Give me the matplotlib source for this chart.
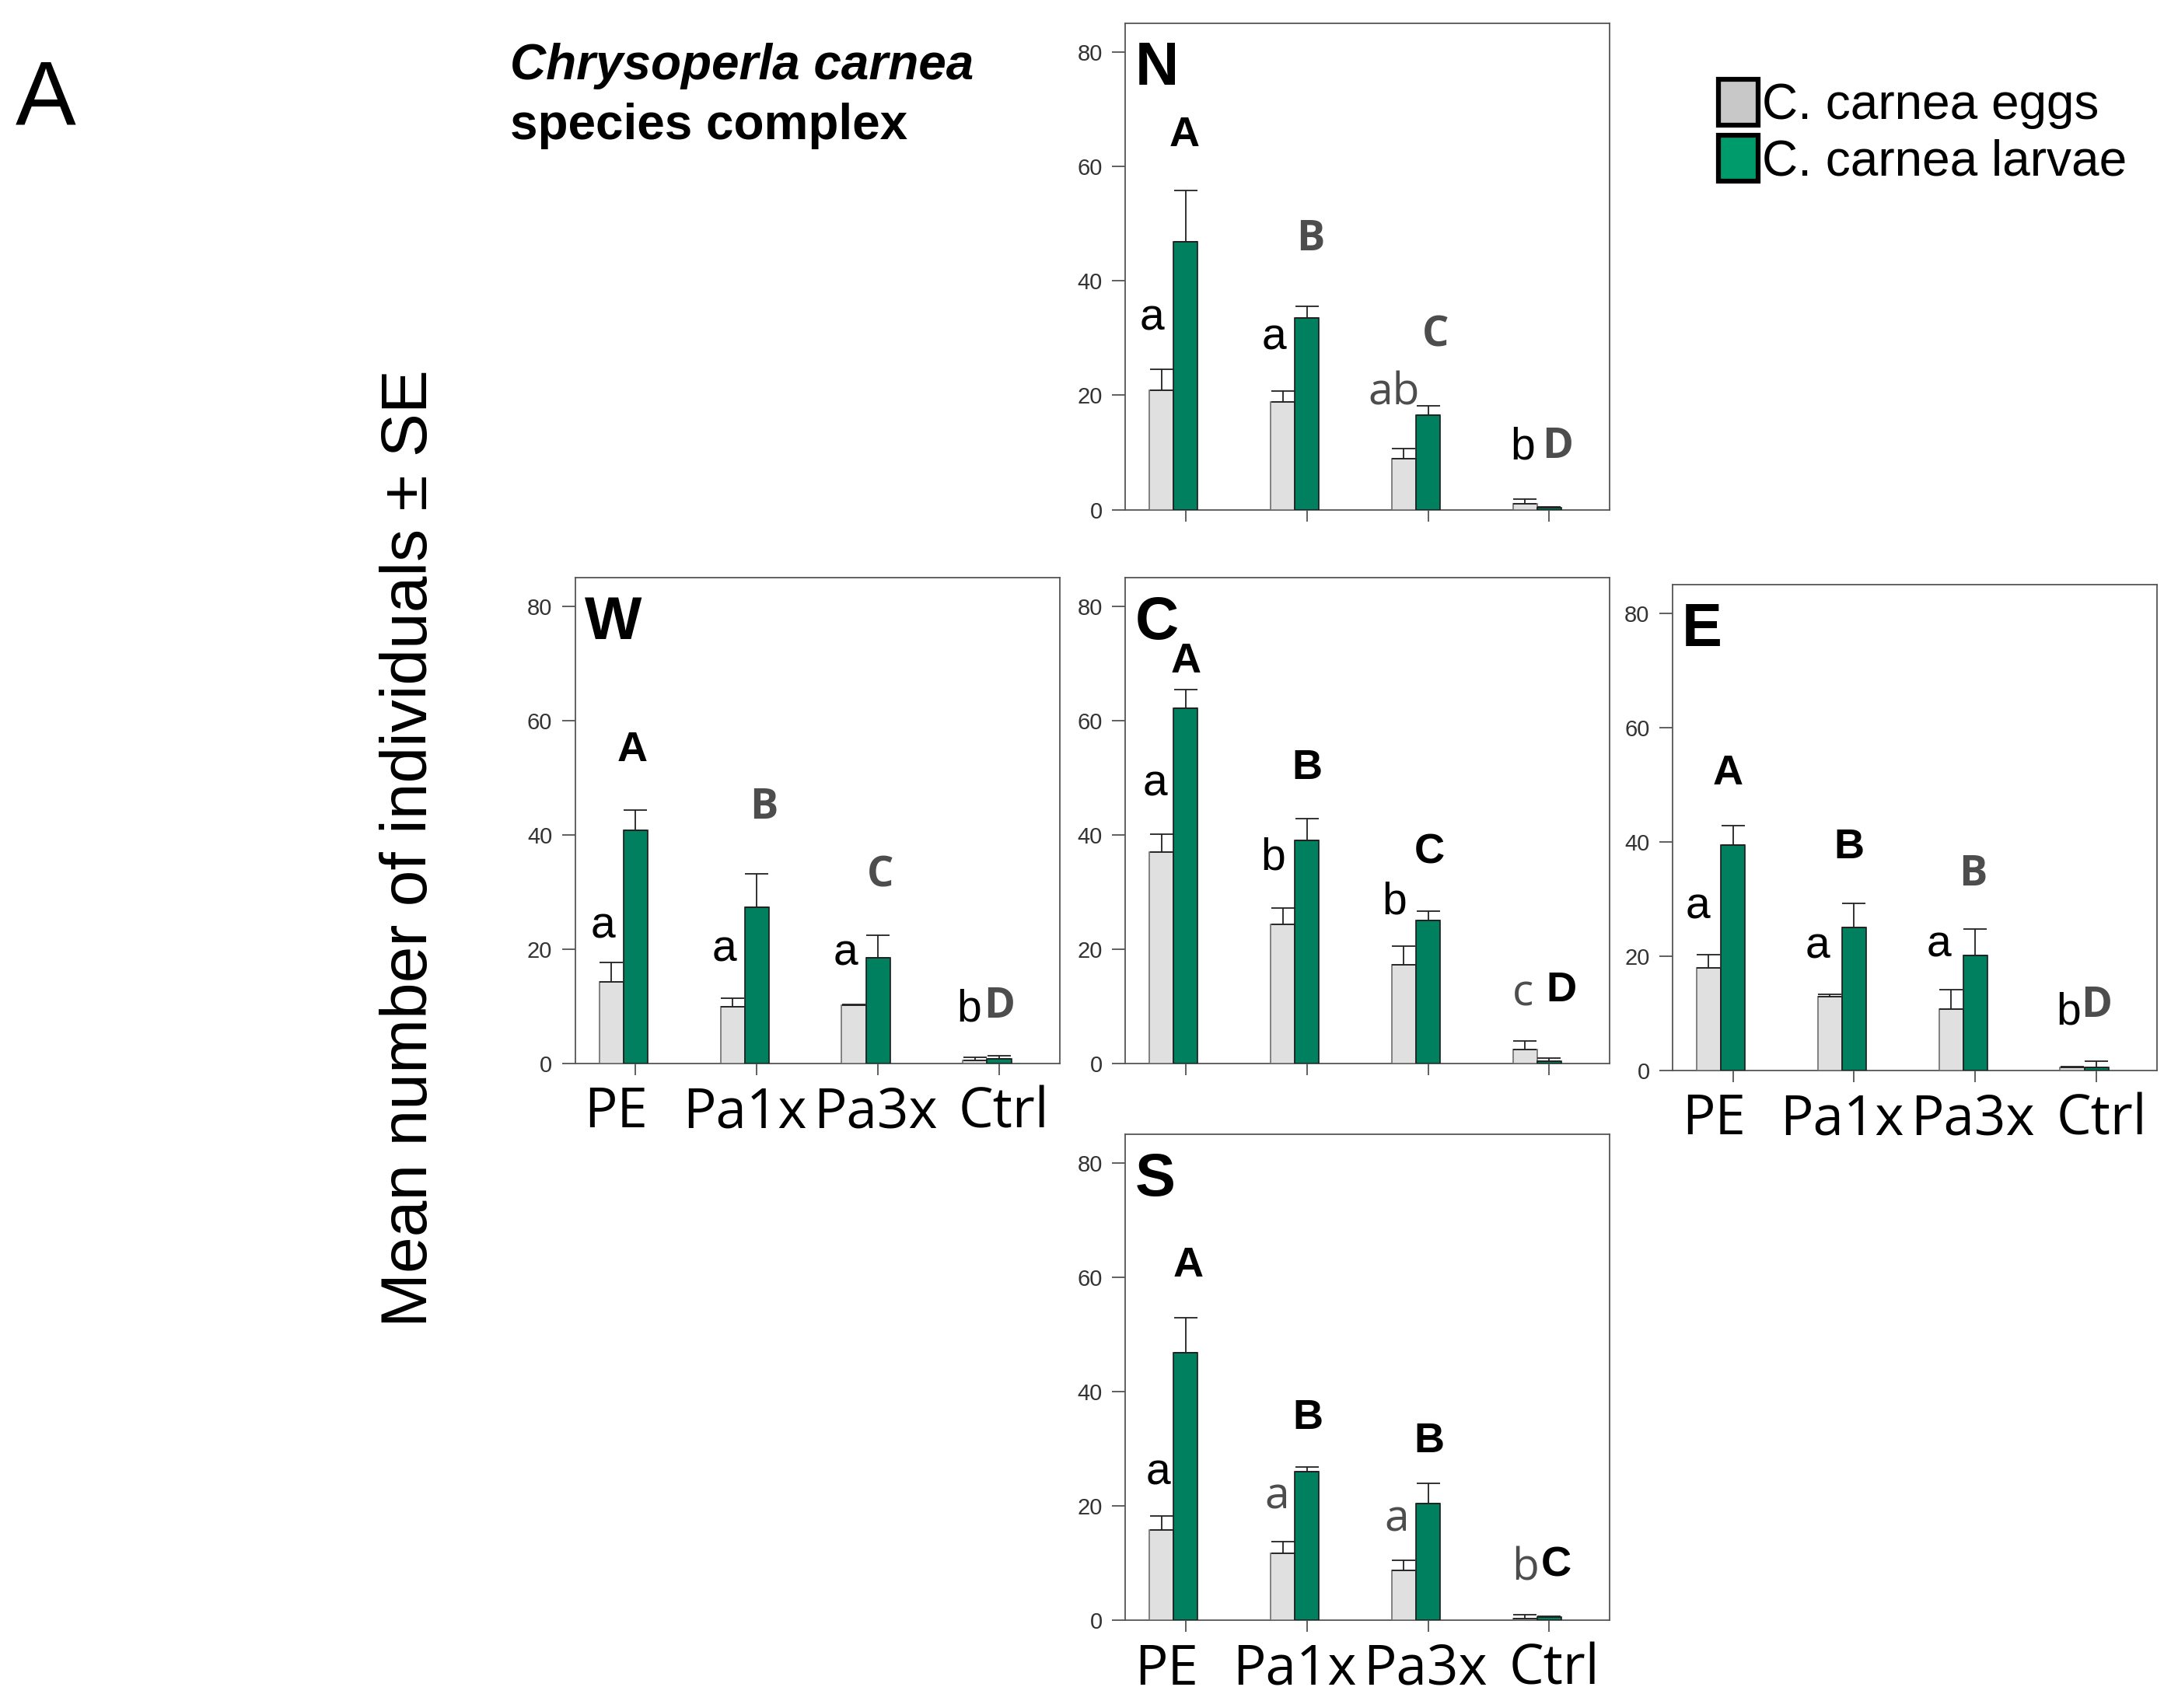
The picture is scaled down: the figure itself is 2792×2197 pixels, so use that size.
"""
Chrysoperla carnea species complex: eggs and larvae per treatment,
five panels arranged as a compass (N, W, C, E, S).
"""

import matplotlib

matplotlib.use("Agg")
import matplotlib.pyplot as plt
import numpy as np
from matplotlib.patches import Patch

# ---------------------------------------------------------------------------
# Data
# ---------------------------------------------------------------------------

GROUPS = ["PE", "Pa1x", "Pa3x", "Ctrl"]

N_EGGS = [20.9, 18.9, 8.9, 1.0]
N_EGGS_SE = [3.7, 1.9, 1.8, 0.8]
N_LARVAE = [46.8, 33.5, 16.5, 0.4]
N_LARVAE_SE = [9.0, 2.1, 1.7, 0.1]

W_EGGS = [14.3, 10.0, 10.2, 0.6]
W_EGGS_SE = [3.4, 1.4, 0.2, 0.5]
W_LARVAE = [40.8, 27.4, 18.5, 0.9]
W_LARVAE_SE = [3.6, 5.8, 3.9, 0.5]

C_EGGS = [37.0, 24.4, 17.3, 2.5]
C_EGGS_SE = [3.1, 2.8, 3.2, 1.5]
C_LARVAE = [62.2, 39.0, 25.0, 0.5]
C_LARVAE_SE = [3.2, 3.8, 1.7, 0.5]

E_EGGS = [17.9, 12.9, 10.7, 0.6]
E_EGGS_SE = [2.4, 0.4, 3.5, 0.1]
E_LARVAE = [39.5, 25.0, 20.1, 0.6]
E_LARVAE_SE = [3.3, 4.2, 4.6, 1.0]

S_EGGS = [15.9, 11.7, 8.8, 0.4]
S_EGGS_SE = [2.4, 2.1, 1.7, 0.65]
S_LARVAE = [46.9, 26.0, 20.4, 0.66]
S_LARVAE_SE = [6.1, 0.8, 3.6, 0.1]

# significance letters (k = black, g = grey)
N_EGG_TAGS = ["a", "a", "ab", "b"]
N_EGG_TAG_COL = "kkgk"
N_LARVA_TAGS = ["A", "B", "C", "D"]
N_LARVA_TAG_COL = "kggg"

W_EGG_TAGS = ["a", "a", "a", "b"]
W_EGG_TAG_COL = "kkkk"
W_LARVA_TAGS = ["A", "B", "C", "D"]
W_LARVA_TAG_COL = "kggg"

C_EGG_TAGS = ["a", "b", "b", "c"]
C_EGG_TAG_COL = "kkkg"
C_LARVA_TAGS = ["A", "B", "C", "D"]
C_LARVA_TAG_COL = "kkkk"

E_EGG_TAGS = ["a", "a", "a", "b"]
E_EGG_TAG_COL = "kkkk"
E_LARVA_TAGS = ["A", "B", "B", "D"]
E_LARVA_TAG_COL = "kkgg"

S_EGG_TAGS = ["a", "a", "a", "b"]
S_EGG_TAG_COL = "kggg"
S_LARVA_TAGS = ["A", "B", "B", "C"]
S_LARVA_TAG_COL = "kkkk"

# ---------------------------------------------------------------------------
# Layout: letter placement (y in data units, x offset from group centre)
# ---------------------------------------------------------------------------

TAG_POS = {
    "N": dict(ey=[33.5, 30.1, 20.3, 10.9], edx=[-0.28, -0.27, -0.28, -0.22],
              ly=[65.5, 47.2, 30.4, 10.9], ldx=[-0.01, 0.03, 0.06, 0.07]),
    "W": dict(ey=[24.0, 19.9, 19.3, 9.5], edx=[-0.27, -0.27, -0.27, -0.25],
              ly=[54.8, 44.7, 32.8, 9.9], ldx=[-0.03, 0.06, 0.02, 0.0]),
    "C": dict(ey=[48.9, 36.0, 28.2, 12.1], edx=[-0.25, -0.28, -0.28, -0.22],
              ly=[70.3, 51.7, 37.0, 12.8], ldx=[0.0, 0.0, 0.01, 0.10]),
    "E": dict(ey=[28.6, 21.7, 22.0, 10.1], edx=[-0.29, -0.30, -0.30, -0.23],
              ly=[51.9, 39.0, 34.3, 11.3], ldx=[-0.04, -0.04, -0.02, 0.0]),
    "S": dict(ey=[25.8, 21.5, 17.6, 9.0], edx=[-0.23, -0.25, -0.26, -0.20],
              ly=[62.1, 35.4, 31.4, 9.7], ldx=[0.02, 0.01, 0.01, 0.06]),
}

# category names are spread a little wider than the ticks
XLABEL_DX = [-0.16, -0.10, -0.02, 0.04]

# panel frames in reference pixels of a 1563 x 1230 view: (left, bottom)
REF_W, REF_H = 1563.0, 1230.0
FIG_W, FIG_H = 27.92, 21.97
PANEL_PX = {"N": (810, 367), "W": (414, 766), "C": (810, 766),
            "E": (1204, 771), "S": (810, 1167)}
PANEL_W, PANEL_H = 349 / REF_W, 350 / REF_H
XLABELS_ON = {"W", "E", "S"}

EGG_FILL, EGG_EDGE = "#e0e0e0", "#6e6e6e"
LARVA_FILL, LARVA_EDGE = "#00805f", "#1a1a1a"
GREY_TXT = "#4d4d4d"
BAR_W = 0.2

panels = {
    "N": (N_EGGS, N_EGGS_SE, N_LARVAE, N_LARVAE_SE,
          N_EGG_TAGS, N_EGG_TAG_COL, N_LARVA_TAGS, N_LARVA_TAG_COL),
    "W": (W_EGGS, W_EGGS_SE, W_LARVAE, W_LARVAE_SE,
          W_EGG_TAGS, W_EGG_TAG_COL, W_LARVA_TAGS, W_LARVA_TAG_COL),
    "C": (C_EGGS, C_EGGS_SE, C_LARVAE, C_LARVAE_SE,
          C_EGG_TAGS, C_EGG_TAG_COL, C_LARVA_TAGS, C_LARVA_TAG_COL),
    "E": (E_EGGS, E_EGGS_SE, E_LARVAE, E_LARVAE_SE,
          E_EGG_TAGS, E_EGG_TAG_COL, E_LARVA_TAGS, E_LARVA_TAG_COL),
    "S": (S_EGGS, S_EGGS_SE, S_LARVAE, S_LARVAE_SE,
          S_EGG_TAGS, S_EGG_TAG_COL, S_LARVA_TAGS, S_LARVA_TAG_COL),
}


def tag(ax, x, y, s, col, upper):
    """Significance letter; black ones in Arial-like, grey ones in Open Sans."""
    if col == "k":
        fam, color = "Liberation Sans", "black"
    else:
        fam, color = "Open Sans", GREY_TXT
    ax.text(x, y, s, ha="center", va="center", color=color, family=fam,
            fontsize=39 if upper else 41,
            fontweight="bold" if upper else "normal", zorder=6)


def draw_panel(ax, name, data):
    eggs, eggs_se, larvae, larvae_se, etags, ecol, ltags, lcol = data
    x = np.arange(len(GROUPS))
    zeros = np.zeros(len(GROUPS))

    ax.bar(x - BAR_W, eggs, width=BAR_W, color=EGG_FILL, edgecolor=EGG_EDGE,
           linewidth=1.2, zorder=3)
    ax.bar(x, larvae, width=BAR_W, color=LARVA_FILL, edgecolor=LARVA_EDGE,
           linewidth=1.2, zorder=3)
    ax.errorbar(x - BAR_W, eggs, yerr=[zeros, eggs_se], fmt="none",
                ecolor="#222222", elinewidth=1.3, capsize=11, capthick=1.3, zorder=4)
    ax.errorbar(x, larvae, yerr=[zeros, larvae_se], fmt="none",
                ecolor="#222222", elinewidth=1.3, capsize=11, capthick=1.3, zorder=4)

    pos = TAG_POS[name]
    for i in range(len(GROUPS)):
        tag(ax, x[i] + pos["edx"][i], pos["ey"][i], etags[i], ecol[i], False)
        tag(ax, x[i] + pos["ldx"][i], pos["ly"][i], ltags[i], lcol[i], True)

    ax.set_xlim(-0.5, 3.5)
    ax.set_ylim(0, 85)
    ax.set_yticks([0, 20, 40, 60, 80])
    ax.set_xticks(x)
    ax.set_xticklabels([])
    if name in XLABELS_ON:
        # category names drawn as text so they can sit off the tick centres
        for i, g in enumerate(GROUPS):
            ax.annotate(g, xy=(x[i] + XLABEL_DX[i], 0),
                        xycoords=("data", "axes fraction"),
                        xytext=(0, -20), textcoords="offset points",
                        ha="center", va="top", family="Open Sans",
                        fontsize=51, annotation_clip=False)
    ax.tick_params(axis="y", length=12, width=1.2, color="#444444",
                   labelsize=21, labelcolor="#333333", pad=9)
    ax.tick_params(axis="x", length=11, width=1.2, color="#444444", pad=9)
    for lab in ax.get_yticklabels():
        lab.set_family("Liberation Sans")
    for sp in ax.spines.values():
        sp.set_color("#555555")
        sp.set_linewidth(1.3)

    ax.text(0.02, 0.965, name, transform=ax.transAxes, ha="left", va="top",
            family="Liberation Sans", fontweight="bold", fontsize=56, zorder=6)


def run():
    fig = plt.figure(figsize=(FIG_W, FIG_H), dpi=100)

    for name, data in panels.items():
        px, py = PANEL_PX[name]
        ax = fig.add_axes([px / REF_W, 1 - py / REF_H, PANEL_W, PANEL_H])
        draw_panel(ax, name, data)

    # figure letter, title and y label
    fig.text(11 / REF_W, 1 - 90 / REF_H, "A", family="Liberation Sans",
             fontsize=84, va="baseline", ha="left")
    fig.text(367 / REF_W, 1 - 57 / REF_H, "Chrysoperla carnea",
             family="Liberation Sans", fontweight="bold", style="italic",
             fontsize=46, va="baseline", ha="left")
    fig.text(367 / REF_W, 1 - 100 / REF_H, "species complex",
             family="Liberation Sans", fontweight="bold",
             fontsize=46, va="baseline", ha="left")
    fig.text(295 / REF_W, 1 - 611 / REF_H, "Mean number of individuals ± SE",
             family="Liberation Sans", fontsize=60.5, rotation=90,
             ha="center", va="center")

    handles = [
        Patch(facecolor="#c8c8c8", edgecolor="black", linewidth=4.5),
        Patch(facecolor="#009b6b", edgecolor="black", linewidth=4.5),
    ]
    fig.legend(handles, ["C. carnea eggs", "C. carnea larvae"],
               loc="upper left", bbox_to_anchor=(1237 / REF_W, 1 - 57 / REF_H),
               frameon=False, prop={"family": "Liberation Sans", "size": 46},
               handlelength=0.8, handleheight=1.05, handletextpad=0.08,
               labelspacing=0.12, borderpad=0, borderaxespad=0)

    fig.savefig("out.png", dpi=100, facecolor="white")
    plt.close(fig)


if __name__ == "__main__":
    run()
